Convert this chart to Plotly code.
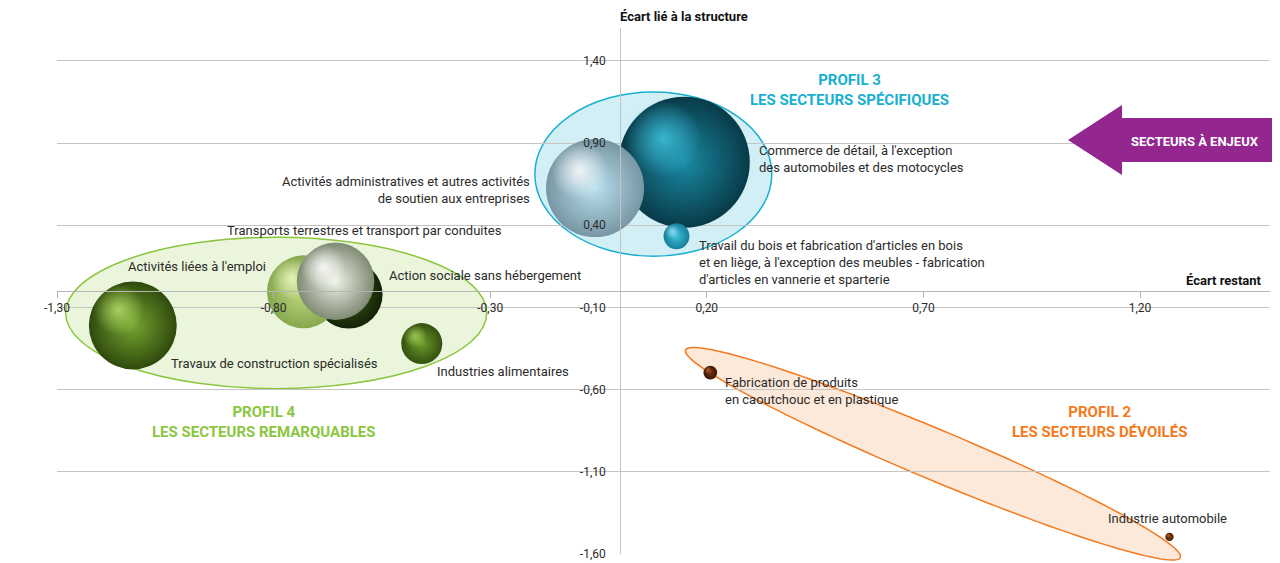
import numpy as np
import plotly.graph_objects as go

# --- data ---
secteurs = [
    "Commerce de détail, à l'exception<br>des automobiles et des motocycles",
    "Activités administratives et autres activités<br>de soutien aux entreprises",
    "Travail du bois et fabrication d'articles en bois<br>et en liège, à l'exception des meubles - fabrication<br>d'articles en vannerie et sparterie",
    "Action sociale sans hébergement",
    "Activités liées à l'emploi",
    "Transports terrestres et transport par conduites",
    "Travaux de construction spécialisés",
    "Industries alimentaires",
    "Fabrication de produits<br>en caoutchouc et en plastique",
    "Industrie automobile",
]
ecart_restant = [0.148, -0.058, 0.130, -0.627, -0.731, -0.657, -1.125, -0.458, 0.208, 1.268]
ecart_structure = [0.784, 0.626, 0.333, -0.021, -0.005, 0.059, -0.210, -0.320, -0.496, -1.496]
poids = [100, 56, 3.9, 27, 31, 35, 45, 9.8, 1.1, 0.4]

x_ticks = [-1.30, -0.80, -0.30, 0.20, 0.70, 1.20]
y_ticks = [-1.60, -1.10, -0.60, -0.10, 0.40, 0.90, 1.40]
X_RANGE = [-1.30, 1.50]
Y_RANGE = [-1.60, 1.60]

# --- styles ---
FONT = "Roboto, Liberation Sans Narrow, sans-serif"
TXT = "#2b2b2b"
CYAN, GREEN, ORANGE, PURPLE = "#19afcf", "#8cc63f", "#f47a20", "#93278f"

# sphere look: dark rim, body colour, highlight
rim = ["#083a48", "#7896a3", "#157f9a", "#142206", "#86a84e", "#7f8a74",
       "#2f4a0c", "#33500e", "#3a1603", "#421a04"]
body = ["#1a8aa3", "#b9e0ee", "#3fbfdb", "#3c5e16", "#bedb80", "#eef2e6",
        "#76a431", "#6e9c2c", "#7a3410", "#8a3d12"]
shine = ["#3fc3de", "#ffffff", "#9be7f7", "#6d9a34", "#f0fac8", "#ffffff",
         "#b7e06a", "#a5d45a", "#c0662a", "#c86a2c"]

# label placement relative to bubble centre (px): xshift, yshift, xanchor
lab = [(73, 3, "left"), (-63, -2, "right"), (20, -26, "left"), (38, 19, "left"),
       (-36, 25, "right"), (29, 51, "center"), (36, -38, "left"), (13, -28, "left"),
       (13, -18, "left"), (-2, 18, "center")]

# page geometry (the page body adds an 8px offset)
OFF = 8
L, T, W, H = 57, 28, 1213, 526          # plot area on screen
PXX = W / (X_RANGE[1] - X_RANGE[0])     # px per unit
PXY = H / (Y_RANGE[1] - Y_RANGE[0])

MAX_D = 131
diam = [MAX_D * np.sqrt(w / max(poids)) for w in poids]


def paper(p):
    return (p[0] - L) / W, (T + H - p[1]) / H


def d2p(x, y):
    return (x - X_RANGE[0]) / (X_RANGE[1] - X_RANGE[0]), (y - Y_RANGE[0]) / (Y_RANGE[1] - Y_RANGE[0])


fig = go.Figure()

# profile envelopes
fig.add_shape(type="circle", xref="x", yref="y", x0=-0.197, x1=0.350, y0=0.211, y1=1.211,
              fillcolor="rgba(25,175,207,0.20)", line=dict(color=CYAN, width=1.5), layer="below")
fig.add_shape(type="circle", xref="x", yref="y", x0=-1.280, x1=-0.308, y0=-0.594, y1=0.327,
              fillcolor="rgba(140,198,63,0.18)", line=dict(color=GREEN, width=1.5), layer="below")
c, u, v = np.array([0.722, -0.990]), np.array([0.571, -0.631]), np.array([-0.0225, -0.1405])
t = np.linspace(0, 2 * np.pi, 140)
pts = c[:, None] + np.outer(u, np.cos(t)) + np.outer(v, np.sin(t))
pp = [d2p(a, b) for a, b in pts.T]
fig.add_shape(type="path", xref="paper", yref="paper", layer="below",
              path="M " + " L ".join(f"{a:.4f},{b:.4f}" for a, b in pp) + " Z",
              fillcolor="rgba(244,122,32,0.17)", line=dict(color=ORANGE, width=1.5))

# bubbles: body + offset highlight, one pair at a time to keep the stacking right
for i, s in enumerate(secteurs):
    x, y, d = ecart_restant[i], ecart_structure[i], diam[i]
    fig.add_trace(go.Scatter(
        x=[x], y=[y], mode="markers", text=[s.replace("<br>", " ")], hoverinfo="text",
        marker=dict(size=d, color=rim[i], gradient=dict(type="radial", color=body[i]),
                    line=dict(width=0)), showlegend=False))
    hx = x - 0.16 * d / PXX
    hy = y + 0.18 * d / PXY
    r, g, b = (int(shine[i][k:k + 2], 16) for k in (1, 3, 5))
    fig.add_trace(go.Scatter(
        x=[hx], y=[hy], mode="markers", hoverinfo="skip",
        marker=dict(size=d * 0.58, color=f"rgba({r},{g},{b},0)",
                    gradient=dict(type="radial", color=f"rgba({r},{g},{b},0.85)"),
                    line=dict(width=0)), showlegend=False))

for s, x, y, (dx, dy, anc) in zip(secteurs, ecart_restant, ecart_structure, lab):
    fig.add_annotation(x=x, y=y, text=s, showarrow=False, xanchor=anc, yanchor="middle",
                       align=anc, xshift=dx, yshift=dy,
                       font=dict(family=FONT, size=13, color=TXT))

# profile titles
for txt, x, y, col in [("PROFIL 3<br>LES SECTEURS SPÉCIFIQUES", 0.529, 1.223, CYAN),
                       ("PROFIL 4<br>LES SECTEURS REMARQUABLES", -0.822, -0.797, GREEN),
                       ("PROFIL 2<br>LES SECTEURS DÉVOILÉS", 1.106, -0.797, ORANGE)]:
    fig.add_annotation(x=x, y=y, text=f"<b>{txt}</b>", showarrow=False,
                       xanchor="center", yanchor="middle",
                       font=dict(family=FONT, size=15, color=col))

# "secteurs à enjeux" arrow (paper coords)
arrow = [(1068, 140), (1122, 105), (1122, 118), (1275, 118), (1275, 162), (1122, 162), (1122, 175)]
ap = [paper(p) for p in arrow]
fig.add_shape(type="path", xref="paper", yref="paper", fillcolor=PURPLE, line=dict(width=0),
              path="M " + " L ".join(f"{a:.4f},{b:.4f}" for a, b in ap) + " Z")
ax, ay = paper((1195, 141))
fig.add_annotation(xref="paper", yref="paper", x=ax, y=ay, xanchor="center", yanchor="middle",
                   text="<b>SECTEURS À ENJEUX</b>", showarrow=False,
                   font=dict(family=FONT, size=13, color="white"))

# axis titles
fig.add_annotation(xref="x", yref="paper", x=0, y=paper((0, 16))[1], xanchor="left",
                   yanchor="middle", xshift=-2, text="<b>Écart lié à la structure</b>",
                   showarrow=False, font=dict(family=FONT, size=13, color="#111"))
fig.add_annotation(xref="paper", yref="y", x=1, y=0, xanchor="right", yanchor="bottom",
                   yshift=1, xshift=-6, text="<b>Écart restant</b>", showarrow=False,
                   font=dict(family=FONT, size=13, color="#111"))


def fmt(v):
    return f"{v:.2f}".replace(".", ",")


fig.update_layout(
    width=1280 - OFF, height=563 - OFF,
    margin=dict(l=L - OFF, r=1280 - L - W, t=T - OFF, b=563 - T - H, autoexpand=False),
    paper_bgcolor="white", plot_bgcolor="white",
    font=dict(family=FONT, size=13, color=TXT),
    xaxis=dict(range=X_RANGE, anchor="free", position=d2p(0, 0)[1], tickvals=x_ticks,
               ticktext=[fmt(v) for v in x_ticks], showgrid=False, zeroline=False,
               showline=True, linecolor="#b5b5b5", linewidth=1, ticks="outside", ticklen=6,
               tickcolor="#b5b5b5", tickfont=dict(family=FONT, size=12, color=TXT),
               automargin=False),
    yaxis=dict(range=Y_RANGE, anchor="free", position=d2p(0, 0)[0], tickvals=y_ticks,
               ticktext=[fmt(v) for v in y_ticks], showgrid=True, gridcolor="#c4c4c4",
               gridwidth=1, zeroline=False, showline=True, linecolor="#c4c4c4", linewidth=1,
               ticks="outside", ticklen=12, tickcolor="rgba(0,0,0,0)",
               tickfont=dict(family=FONT, size=12, color=TXT), automargin=False),
)

fig.write_html("out.html")
